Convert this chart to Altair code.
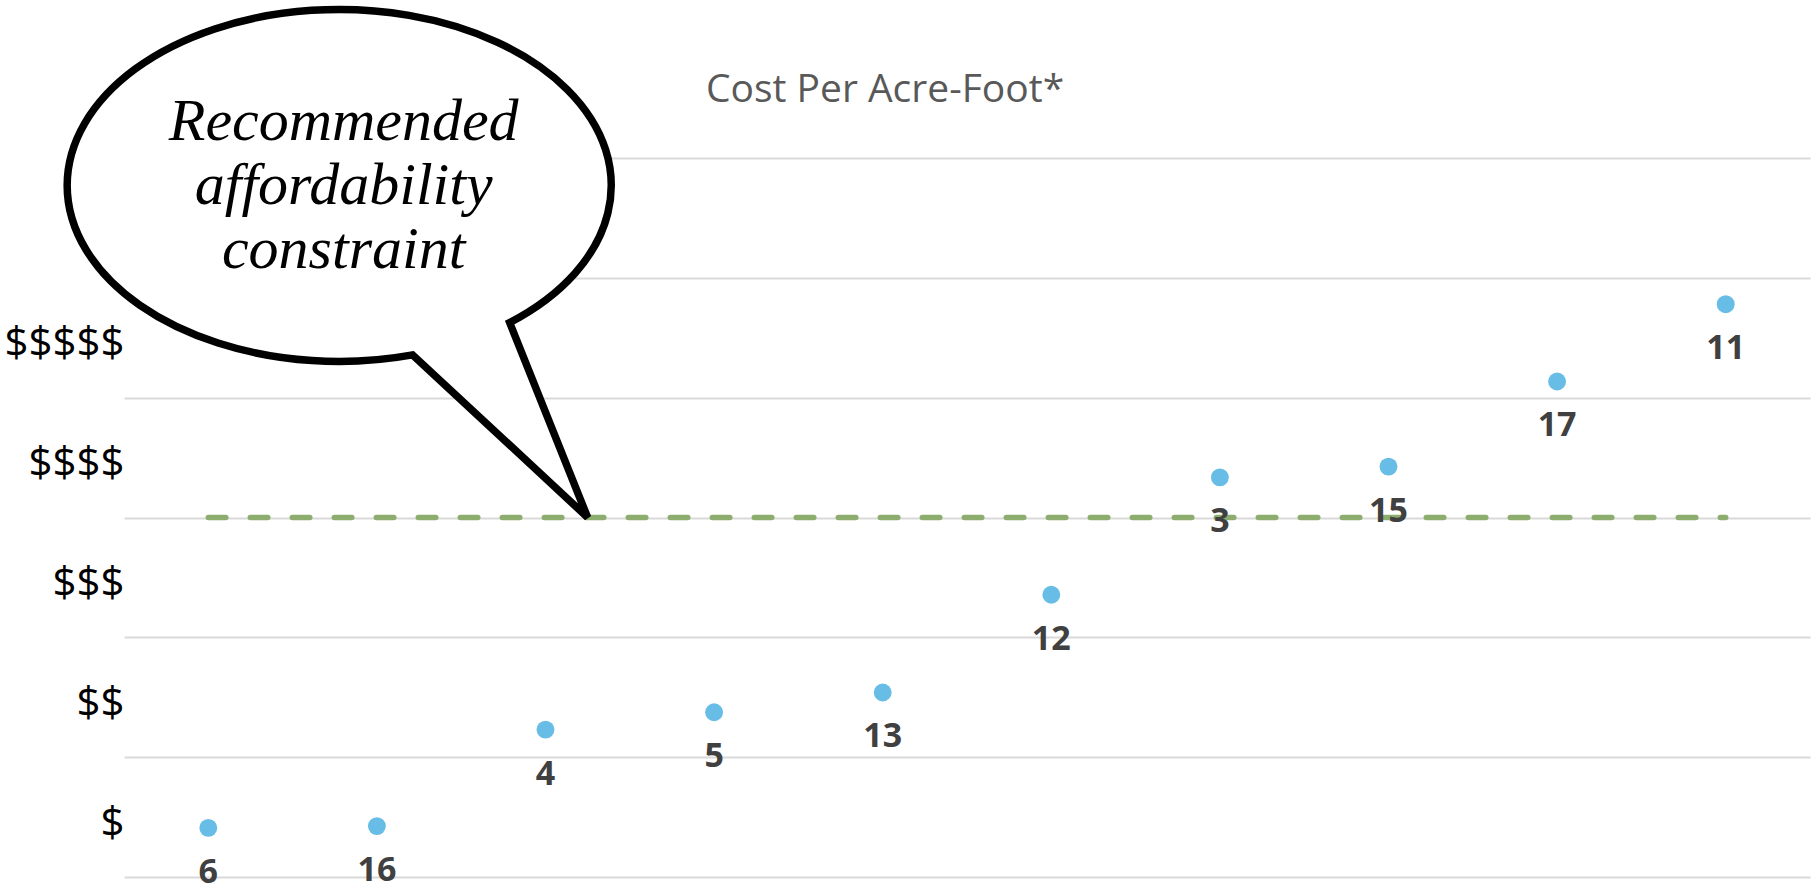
import json
import altair as alt
import pandas as pd

# ---- data ----
site_ids = ["6", "16", "4", "5", "13", "12", "3", "15", "17", "11"]
site_order = [1, 2, 3, 4, 5, 6, 7, 8, 9, 10]
cost_level = [0.41, 0.425, 1.23, 1.375, 1.54, 2.355, 3.335, 3.425, 4.135, 4.78]
constraint_level = [3, 3, 3, 3, 3, 3, 3, 3, 3, 3]

cost_tick_values = [0, 1, 2, 3, 4, 5, 6]
cost_tick_labels = ["$", "$$", "$$$", "$$$$", "$$$$$", "", ""]

callout_text = ["Recommended\naffordability\nconstraint"]
callout_x = [3.25]   # where the callout's tail points (category position)
callout_y = [3.0]    # ... on the affordability-constraint level

title_text = ["Cost Per Acre-Foot*"]

# ---- tables ----
points = pd.DataFrame({"site": site_ids, "order": site_order, "cost": cost_level})
constraint = pd.DataFrame({"order": site_order, "level": constraint_level})
callout = pd.DataFrame({"x": callout_x, "y": callout_y, "text": callout_text})
titles = pd.DataFrame({"title": title_text})

W, H = 1686, 719
band = H / (len(cost_tick_values) - 1)

xs = alt.Scale(domain=[0.5, 10.5], nice=False, zero=False)
ys = alt.Scale(domain=[0, 6], nice=False, zero=False)

label_expr = f"{json.dumps(cost_tick_labels)}[datum.value] || ''"

y_axis = alt.Axis(
    values=cost_tick_values,
    labelExpr=label_expr,
    labelOffset=-band / 2 + 6,
    labelBaseline="middle",
    labelPadding=0,
    labelFont="Open Sans",
    labelFontSize=42,
    labelColor="#000000",
    labelOverlap=False,
    ticks=False,
    domain=False,
    grid=True,
    gridColor="#D9D9D9",
    gridWidth=2,
    title=None,
)

line = alt.Chart(constraint).mark_line(
    color="#8CAD6E", strokeWidth=5.5, strokeDash=[17.5, 24.5], strokeCap="round"
).encode(
    x=alt.X("order:Q", scale=xs, axis=None),
    y=alt.Y("level:Q", scale=ys, axis=y_axis),
)

dots = alt.Chart(points).mark_circle(size=320, color="#68BDE6", opacity=1).encode(
    x=alt.X("order:Q", scale=xs),
    y=alt.Y("cost:Q", scale=ys),
)

labels = alt.Chart(points).mark_text(
    font="Open Sans", fontWeight="bold", fontSize=34, color="#404040",
    align="center", baseline="alphabetic", dy=55,
).encode(
    x=alt.X("order:Q", scale=xs),
    y=alt.Y("cost:Q", scale=ys),
    text="site:N",
)

# speech-bubble outline as a custom symbol path (tip at the anchor point)
bubble_path = "M -1.75 -1.626 A 2.72 1.76 0 1 1 -0.78 -1.949 L 0 0 Z"
bubble = alt.Chart(callout).mark_point(
    shape=bubble_path, size=40000, filled=True, fill="white", stroke="black",
    strokeWidth=7.5, opacity=1, fillOpacity=1, strokeOpacity=1, strokeJoin="miter",
).encode(
    x=alt.X("x:Q", scale=xs),
    y=alt.Y("y:Q", scale=ys),
)

bubble_text = alt.Chart(callout).mark_text(
    font="Liberation Serif", fontStyle="italic", fontSize=60, lineHeight=64,
    lineBreak="\n", align="center", baseline="alphabetic", color="black",
    dx=-244, dy=-378,
).encode(
    x=alt.X("x:Q", scale=xs),
    y=alt.Y("y:Q", scale=ys),
    text="text:N",
)

title = alt.Chart(titles).mark_text(
    font="Open Sans", fontSize=39, color="#595959", align="center",
    baseline="alphabetic",
).encode(
    x=alt.value(761),
    y=alt.value(-56),
    text="title:N",
)

chart = alt.layer(line, dots, labels, bubble, bubble_text, title).properties(
    width=W,
    height=H,
    autosize=alt.AutoSizeParams(type="none"),
    padding={"left": 124, "top": 158, "right": 3, "bottom": 13},
    background="white",
).configure_view(stroke=None)

chart.save("out.html", embed_options={"renderer": "svg", "actions": False})
